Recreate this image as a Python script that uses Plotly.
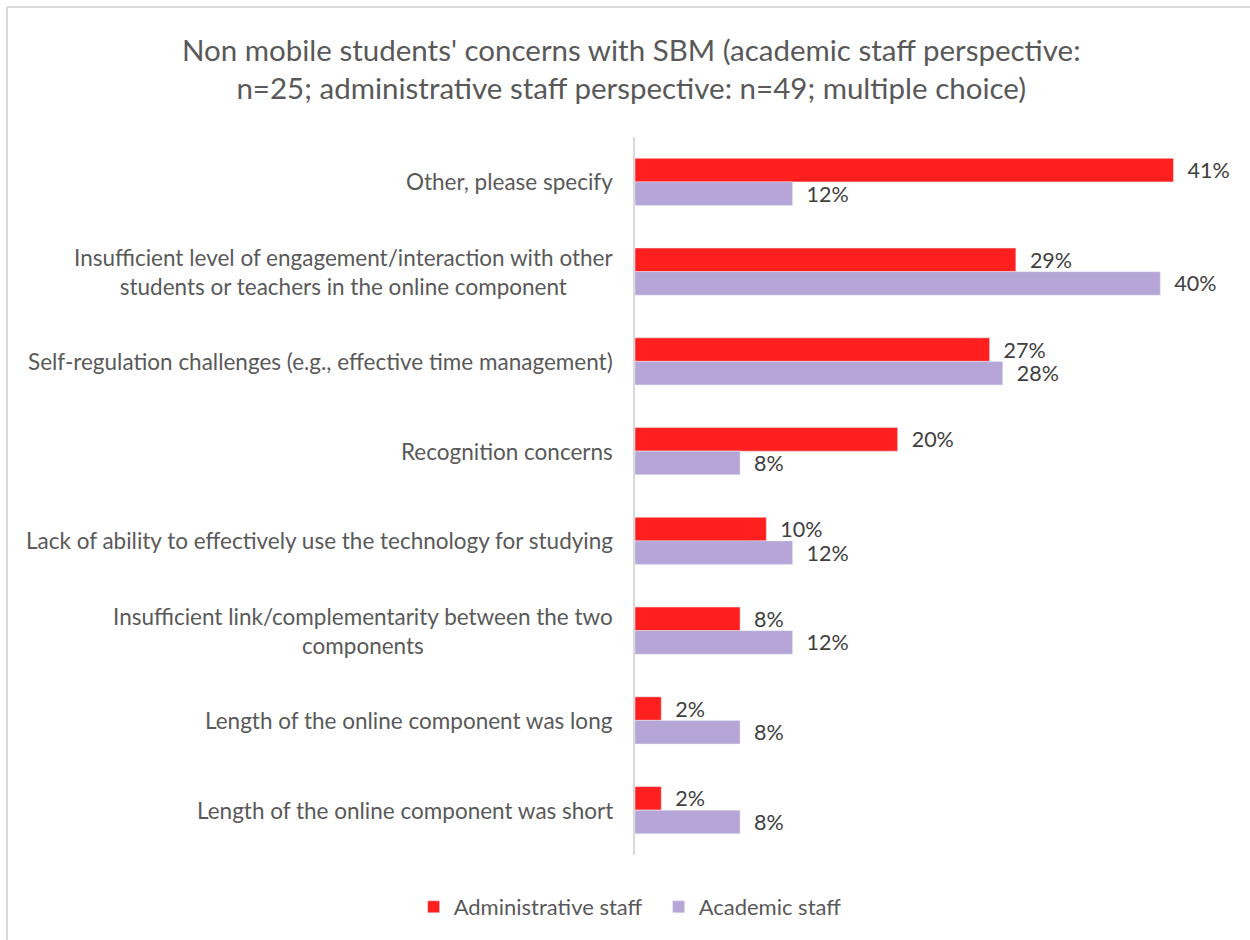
import plotly.graph_objects as go

categories = [
    "Other, please specify",
    "Insufficient level of engagement/interaction with other<br>students or teachers in the online component",
    "Self-regulation challenges (e.g., effective time management)",
    "Recognition concerns",
    "Lack of ability to effectively use the technology for studying",
    "Insufficient link/complementarity between the two<br>components",
    "Length of the online component was long",
    "Length of the online component was short",
]
admin_values = [41, 29, 27, 20, 10, 8, 2, 2]
academic_values = [12, 40, 28, 8, 12, 12, 8, 8]

RED = "#FF1F1F"
PURPLE = "#B6A6D7"
LABEL_GREY = "#595959"
VALUE_GREY = "#404040"
FONT = "Lato, 'Open Sans', sans-serif"

fig = go.Figure()
fig.add_trace(go.Bar(
    name="Administrative staff", y=categories, x=admin_values, orientation="h",
    marker=dict(color=RED), texttemplate="\u00a0\u00a0%{x}%", textposition="outside",
    textfont=dict(size=21.5, color=VALUE_GREY, family=FONT), cliponaxis=False,
    constraintext="none",
))
fig.add_trace(go.Bar(
    name="Academic staff", y=categories, x=academic_values, orientation="h",
    marker=dict(color=PURPLE), texttemplate="\u00a0\u00a0%{x}%", textposition="outside",
    textfont=dict(size=21.5, color=VALUE_GREY, family=FONT), cliponaxis=False,
    constraintext="none",
))

# category labels as centred multi-line annotations left of the axis
for cat in categories:
    fig.add_annotation(
        x=0, xref="x", y=cat, yref="y", text=cat, showarrow=False,
        xanchor="right", align="center", xshift=-20,
        font=dict(size=22.5, color=LABEL_GREY, family=FONT),
    )

# light frame on the left and top edges
fig.add_shape(type="line", xref="paper", yref="paper",
              x0=-628 / 591, x1=-628 / 591, y0=-85 / 718, y1=(940 - 7 - 85) / 718,
              line=dict(color="#D9D9D9", width=2))
fig.add_shape(type="line", xref="paper", yref="paper",
              x0=-628 / 591, x1=1.1, y0=(940 - 7 - 85) / 718, y1=(940 - 7 - 85) / 718,
              line=dict(color="#D9D9D9", width=2))

fig.update_layout(
    width=1250, height=940,
    margin=dict(l=635, r=24, t=137, b=85, autoexpand=False),
    paper_bgcolor="white", plot_bgcolor="white",
    barmode="group", bargap=0.475, bargroupgap=0,
    title=dict(
        text="Non mobile students' concerns with SBM (academic staff perspective:<br>n=25; administrative staff perspective: n=49; multiple choice)",
        x=0.505, xanchor="center", xref="container",
        y=1 - 61 / 940, yanchor="top",
        font=dict(size=29.5, color=LABEL_GREY, family=FONT),
    ),
    xaxis=dict(range=[0, 45], visible=False, showgrid=False, zeroline=False),
    yaxis=dict(type="category", autorange="reversed", showticklabels=False, ticks="",
               showline=True, linecolor="#D9D9D9", linewidth=2, showgrid=False),
    legend=dict(orientation="h", x=0.04, xanchor="center",
                y=-52 / 718, yanchor="middle",
                font=dict(size=22, color=LABEL_GREY, family=FONT),
                entrywidth=200, entrywidthmode="pixels",
                traceorder="normal"),
    showlegend=True,
)

fig.write_html("out.html")
